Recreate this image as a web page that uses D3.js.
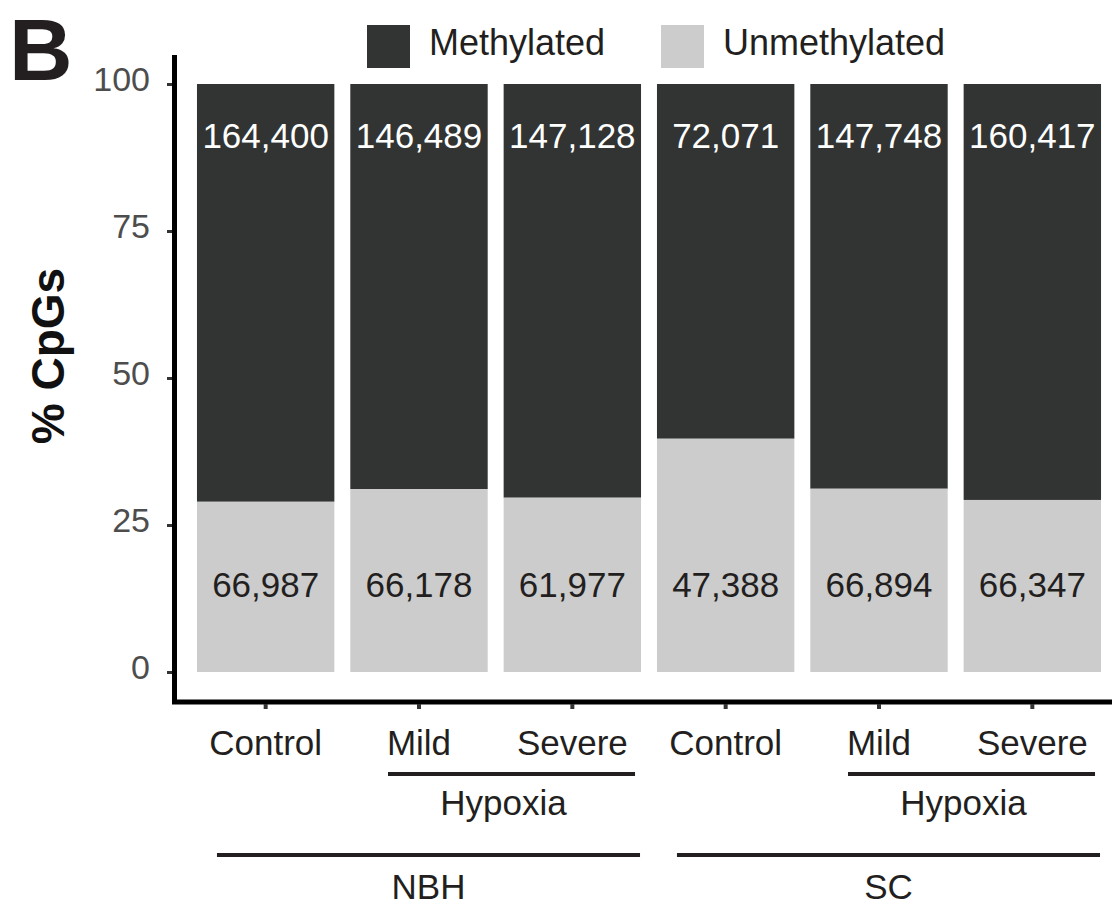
<!DOCTYPE html>
<html>
<head>
<meta charset="utf-8">
<script src="https://cdn.jsdelivr.net/npm/d3@7"></script>
<style>
  html, body { margin: 0; padding: 0; background: #ffffff; }
  svg { display: block; font-family: Arial, "Liberation Sans", Helvetica, sans-serif; }
</style>
</head>
<body>
<svg id="chart" width="1112" height="907"></svg>
<script>
// CpG counts per sample
const categories = ["Control", "Mild", "Severe", "Control", "Mild", "Severe"];
const tissue = ["NBH", "NBH", "NBH", "SC", "SC", "SC"];
const methylated = [164400, 146489, 147128, 72071, 147748, 160417];
const unmethylated = [66987, 66178, 61977, 47388, 66894, 66347];
const seriesNames = ["Methylated", "Unmethylated"];
const yTicks = [0, 25, 50, 75, 100];
// bracketed groupings below the axis: [label, first bar index, last bar index, level]
const groupLabels = ["Hypoxia", "Hypoxia", "NBH", "SC"];
const groupFrom = [1, 4, 0, 3];
const groupTo = [2, 5, 2, 5];
const groupLevel = [1, 1, 2, 2];

const darkCol = "#323433";
const lightCol = "#cccccc";
const fmt = d3.format(",");

const svg = d3.select("#chart");

const idx = d3.range(categories.length);
const x = d3.scaleBand().domain(idx).range([189, 1109]).paddingInner(0.104).paddingOuter(0.052);
const y = d3.scaleLinear().domain([0, 100]).range([672, 84]);
const bw = x.bandwidth();

const rows = idx.map(i => {
  const total = methylated[i] + unmethylated[i];
  return { i, m: methylated[i], u: unmethylated[i], uPct: unmethylated[i] / total * 100 };
});

// stacked bars: unmethylated at bottom, methylated on top
const bars = svg.append("g");
bars.selectAll("rect.meth").data(rows).join("rect")
  .attr("x", d => x(d.i)).attr("width", bw)
  .attr("y", y(100)).attr("height", d => y(d.uPct) - y(100))
  .attr("fill", darkCol);
bars.selectAll("rect.unmeth").data(rows).join("rect")
  .attr("x", d => x(d.i)).attr("width", bw)
  .attr("y", d => y(d.uPct)).attr("height", d => y(0) - y(d.uPct))
  .attr("fill", lightCol);

// count labels
bars.selectAll("text.top").data(rows).join("text")
  .attr("x", d => x(d.i) + bw / 2).attr("y", 148)
  .attr("text-anchor", "middle").attr("font-size", 35).attr("fill", "#ffffff")
  .text(d => fmt(d.m));
bars.selectAll("text.bot").data(rows).join("text")
  .attr("x", d => x(d.i) + bw / 2).attr("y", 597)
  .attr("text-anchor", "middle").attr("font-size", 35).attr("fill", "#231f20")
  .text(d => fmt(d.u));

// y axis
const yAxis = svg.append("g").attr("transform", "translate(172,0)")
  .call(d3.axisLeft(y).tickValues(yTicks).tickSize(5).tickPadding(17));
yAxis.select(".domain").remove();
yAxis.selectAll(".tick line").attr("stroke", "#333333").attr("stroke-width", 3);
yAxis.selectAll(".tick text").attr("font-size", 34).attr("fill", "#4d4d4d")
  .attr("font-family", "Arial, 'Liberation Sans', sans-serif").attr("dy", "0.2em");

// axis lines
svg.append("line").attr("x1", 174.5).attr("x2", 174.5).attr("y1", 55).attr("y2", 704)
  .attr("stroke", "#000").attr("stroke-width", 5);
svg.append("line").attr("x1", 172).attr("x2", 1112).attr("y1", 702).attr("y2", 702)
  .attr("stroke", "#000").attr("stroke-width", 5);

// x ticks and category labels
const xg = svg.append("g");
xg.selectAll("line").data(idx).join("line")
  .attr("x1", i => x(i) + bw / 2).attr("x2", i => x(i) + bw / 2)
  .attr("y1", 704).attr("y2", 709)
  .attr("stroke", "#333333").attr("stroke-width", 4);
xg.selectAll("text").data(idx).join("text")
  .attr("x", i => x(i) + bw / 2).attr("y", 755)
  .attr("text-anchor", "middle").attr("font-size", 35).attr("fill", "#231f20")
  .text(i => categories[i]);

// group brackets
const lineY = { 1: 774, 2: 855 };
const textY = { 1: 815, 2: 899 };
const gg = svg.append("g");
groupLabels.forEach((label, k) => {
  const a = groupFrom[k], b = groupTo[k], lvl = groupLevel[k];
  const x1 = lvl === 1 ? x(a) + bw / 2 - 31 : x(a) + 20;
  const x2 = lvl === 1 ? x(b) + bw - 6 : x(b) + bw - 1;
  gg.append("line").attr("x1", x1).attr("x2", x2).attr("y1", lineY[lvl]).attr("y2", lineY[lvl])
    .attr("stroke", "#231f20").attr("stroke-width", 4);
  gg.append("text").attr("x", (x1 + x2) / 2 - (lvl === 1 ? 8 : 0)).attr("y", textY[lvl])
    .attr("text-anchor", "middle").attr("font-size", 35).attr("fill", "#231f20")
    .text(label);
});

// y axis title
svg.append("text")
  .attr("transform", "translate(64,356) rotate(-90)")
  .attr("text-anchor", "middle").attr("font-size", 46).attr("font-weight", "bold")
  .attr("fill", "#111111")
  .text("% CpGs");

// panel letter
svg.append("text").attr("x", 9).attr("y", 80)
  .attr("font-size", 88).attr("font-weight", "bold").attr("fill", "#231f20")
  .text("B");

// legend
const legX = [367, 661];
const lg = svg.append("g");
seriesNames.forEach((name, k) => {
  lg.append("rect").attr("x", legX[k]).attr("y", 25).attr("width", 43).attr("height", 43)
    .attr("fill", k === 0 ? darkCol : lightCol);
  lg.append("text").attr("x", legX[k] + 62).attr("y", 55)
    .attr("font-size", 36).attr("fill", "#231f20").text(name);
});
</script>
</body>
</html>
